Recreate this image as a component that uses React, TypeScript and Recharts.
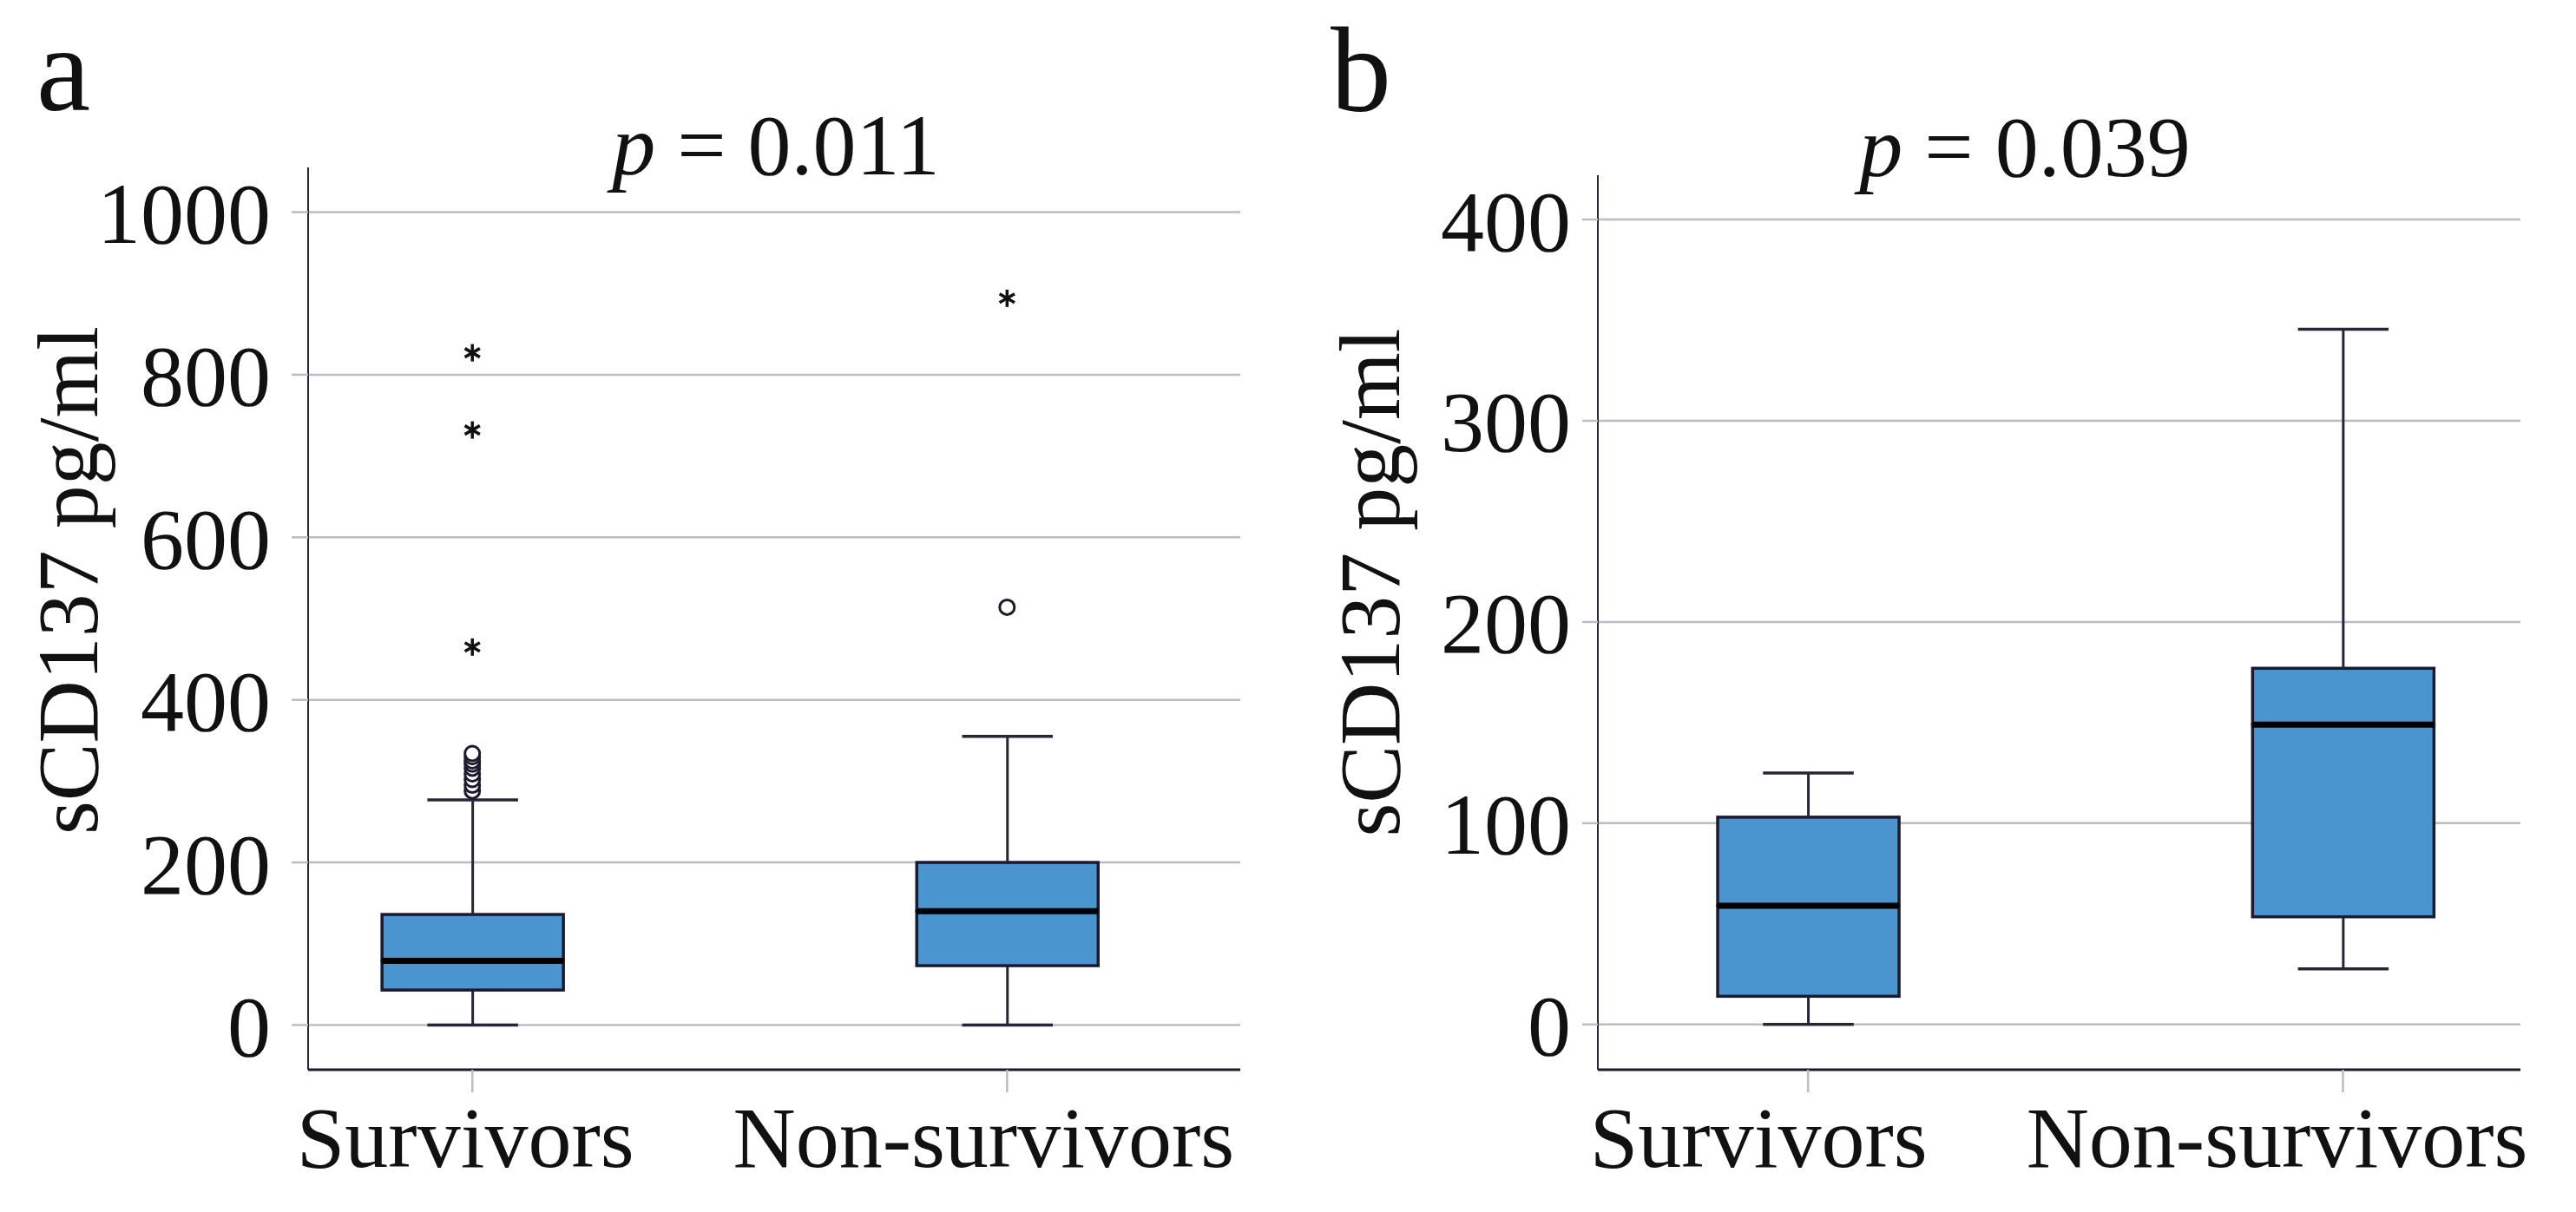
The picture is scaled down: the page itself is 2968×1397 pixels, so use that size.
import React from 'react';
import { ComposedChart, Bar, Scatter, XAxis, YAxis, CartesianGrid, Label } from 'recharts';

// ---------- data ----------
const categories = ['Survivors', 'Non-survivors'];
const groupPositions = [1, 2];

// panel a
const aMin = [0, 0];
const aQ1 = [43, 73];
const aMedian = [79, 140];
const aQ3 = [136, 200];
const aMax = [277, 355];
const aCircleOutliers = [[288, 295, 302, 309, 316, 321, 325, 330, 334], [514]];
const aExtremeOutliers = [[827, 732, 465], [894]];
const aTicks = [0, 200, 400, 600, 800, 1000];
const aPValue = '0.011';

// panel b
const bMin = [0, 27.6];
const bQ1 = [14, 53.5];
const bMedian = [59, 149];
const bQ3 = [103, 177];
const bMax = [125, 345.5];
const bCircleOutliers: number[][] = [[], []];
const bExtremeOutliers: number[][] = [[], []];
const bTicks = [0, 100, 200, 300, 400];
const bPValue = '0.039';

const yLabelText = 'sCD137 pg/ml';

// ---------- helpers ----------
function buildRows(min: number[], q1: number[], med: number[], q3: number[], max: number[]) {
  return groupPositions.map((pos, i) => ({
    pos,
    base: min[i],
    lowWhisker: q1[i] - min[i],
    lowBox: med[i] - q1[i],
    highBox: q3[i] - med[i],
    highWhisker: max[i] - q3[i],
  }));
}

function buildOutliers(list: number[][]) {
  const out: { pos: number; value: number }[] = [];
  list.forEach((vals, i) => vals.forEach((v) => out.push({ pos: groupPositions[i], value: v })));
  return out;
}

// ---------- styles ----------
const FONT = '"Liberation Serif", "Times New Roman", serif';
const TEXT = '#111111';
const BOX_FILL = '#4a95cf';
const BOX_STROKE = '#1c1a2e';
const WHISKER = '#2a2438';
const GRID = '#bcbcc4';

const NoShape = () => <g />;

const LowWhiskerShape = (p: any) => {
  const { x, y, width, height } = p;
  if (x == null || y == null) return <g />;
  const cx = x + width / 2;
  const cap = width / 4;
  return (
    <g>
      <line x1={cx} x2={cx} y1={y} y2={y + height} stroke={WHISKER} strokeWidth={3} />
      <line x1={cx - cap} x2={cx + cap} y1={y + height} y2={y + height} stroke={WHISKER} strokeWidth={3.5} />
    </g>
  );
};

const HighWhiskerShape = (p: any) => {
  const { x, y, width, height } = p;
  if (x == null || y == null) return <g />;
  const cx = x + width / 2;
  const cap = width / 4;
  return (
    <g>
      <line x1={cx} x2={cx} y1={y} y2={y + height} stroke={WHISKER} strokeWidth={3} />
      <line x1={cx - cap} x2={cx + cap} y1={y} y2={y} stroke={WHISKER} strokeWidth={3.5} />
    </g>
  );
};

const LowBoxShape = (p: any) => {
  const { x, y, width, height } = p;
  if (x == null || y == null) return <g />;
  return <rect x={x} y={y} width={width} height={height} fill={BOX_FILL} stroke={BOX_STROKE} strokeWidth={3.5} />;
};

const HighBoxShape = (p: any) => {
  const { x, y, width, height } = p;
  if (x == null || y == null) return <g />;
  return (
    <g>
      <rect x={x} y={y} width={width} height={height} fill={BOX_FILL} stroke={BOX_STROKE} strokeWidth={3.5} />
      <line x1={x} x2={x + width} y1={y + height} y2={y + height} stroke="#000" strokeWidth={7} />
    </g>
  );
};

const CircleShape = (p: any) => {
  const { cx, cy } = p;
  if (cx == null || cy == null) return <g />;
  return <circle cx={cx} cy={cy} r={8.5} fill="#fff" stroke={BOX_STROKE} strokeWidth={3} />;
};

const StarShape = (p: any) => {
  const { cx, cy } = p;
  if (cx == null || cy == null) return <g />;
  const r = 10;
  const arms = [90, 30, -30];
  return (
    <g>
      {arms.map((deg) => {
        const a = (deg * Math.PI) / 180;
        return (
          <line
            key={deg}
            x1={cx - r * Math.cos(a)}
            y1={cy - r * Math.sin(a)}
            x2={cx + r * Math.cos(a)}
            y2={cy + r * Math.sin(a)}
            stroke="#111"
            strokeWidth={3.5}
          />
        );
      })}
    </g>
  );
};

type PanelCfg = {
  left: number;
  width: number;
  height: number;
  top: number;
  right: number;
  yAxisWidth: number;
  xAxisHeight: number;
  xDomain: [number, number];
  yDomain: [number, number];
  yTickSize: number;
  yTickMargin: number;
  xTickSize: number;
  xTickMargin: number;
  xLabelOffsets: number[];
  yLabelX: number;
  yLabelDy: number;
  barSize: number;
};

const panelA: PanelCfg = {
  left: 0,
  width: 1484,
  height: 1397,
  top: 193,
  right: 55,
  yAxisWidth: 355,
  xAxisHeight: 164,
  xDomain: [0.6929, 2.4361],
  yDomain: [-55, 1055],
  yTickSize: 19,
  yTickMargin: 24,
  xTickSize: 26,
  xTickMargin: 15,
  xLabelOffsets: [-8, -27],
  yLabelX: 112,
  yLabelDy: -44,
  barSize: 209,
};

const panelB: PanelCfg = {
  left: 1484,
  width: 1484,
  height: 1397,
  top: 202,
  right: 64,
  yAxisWidth: 357,
  xAxisHeight: 164,
  xDomain: [0.607, 2.3318],
  yDomain: [-22.5, 422],
  yTickSize: 18,
  yTickMargin: 13,
  xTickSize: 26,
  xTickMargin: 15,
  xLabelOffsets: [-57, -76],
  yLabelX: 128,
  yLabelDy: -46,
  barSize: 209,
};

function BoxPanel({
  cfg,
  rows,
  circles,
  stars,
  ticks,
}: {
  cfg: PanelCfg;
  rows: any[];
  circles: { pos: number; value: number }[];
  stars: { pos: number; value: number }[];
  ticks: number[];
}) {
  const XTick = (props: any) => {
    const { x, y, payload } = props;
    const i = groupPositions.indexOf(payload.value);
    if (i < 0) return <g />;
    return (
      <text x={x + cfg.xLabelOffsets[i]} y={y} dy={71} textAnchor="middle" fontFamily={FONT} fontSize={100} fill={TEXT}>
        {categories[i]}
      </text>
    );
  };

  const YLabel = (props: any) => {
    const vb = props.viewBox || { x: 0, y: 0, width: 0, height: 0 };
    const bx = vb.x + cfg.yLabelX;
    const cy = vb.y + vb.height / 2 + cfg.yLabelDy;
    return (
      <text
        transform={`translate(${bx},${cy}) rotate(-90)`}
        textAnchor="middle"
        fontFamily={FONT}
        fontSize={100}
        fill={TEXT}
      >
        {yLabelText}
      </text>
    );
  };

  return (
    <div style={{ position: 'absolute', left: cfg.left, top: 0, width: cfg.width, height: cfg.height }}>
      <ComposedChart
        width={cfg.width}
        height={cfg.height}
        data={rows}
        margin={{ top: cfg.top, right: cfg.right, bottom: 0, left: 0 }}
        barGap={0}
      >
        <CartesianGrid vertical={false} stroke={GRID} strokeWidth={2.5} syncWithTicks />
        <XAxis
          dataKey="pos"
          type="number"
          domain={cfg.xDomain}
          ticks={groupPositions}
          allowDataOverflow
          height={cfg.xAxisHeight}
          tickSize={cfg.xTickSize}
          tickMargin={cfg.xTickMargin}
          tickLine={{ stroke: GRID, strokeWidth: 2.5 }}
          axisLine={{ stroke: BOX_STROKE, strokeWidth: 3 }}
          tick={XTick}
          interval={0}
        />
        <YAxis
          type="number"
          domain={cfg.yDomain}
          ticks={ticks}
          allowDataOverflow
          width={cfg.yAxisWidth}
          tickSize={cfg.yTickSize}
          tickMargin={cfg.yTickMargin}
          tickLine={{ stroke: GRID, strokeWidth: 2.5 }}
          axisLine={{ stroke: WHISKER, strokeWidth: 2 }}
          tick={{ fontFamily: FONT, fontSize: 100, fill: TEXT }}
          interval={0}
        >
          <Label content={YLabel} />
        </YAxis>
        <Bar dataKey="base" stackId="box" barSize={cfg.barSize} shape={NoShape} fill="none" isAnimationActive={false} />
        <Bar dataKey="lowWhisker" stackId="box" barSize={cfg.barSize} shape={LowWhiskerShape} isAnimationActive={false} />
        <Bar dataKey="lowBox" stackId="box" barSize={cfg.barSize} shape={LowBoxShape} isAnimationActive={false} />
        <Bar dataKey="highBox" stackId="box" barSize={cfg.barSize} shape={HighBoxShape} isAnimationActive={false} />
        <Bar dataKey="highWhisker" stackId="box" barSize={cfg.barSize} shape={HighWhiskerShape} isAnimationActive={false} />
        {circles.length > 0 && (
          <Scatter data={circles} dataKey="value" shape={CircleShape} isAnimationActive={false} />
        )}
        {stars.length > 0 && <Scatter data={stars} dataKey="value" shape={StarShape} isAnimationActive={false} />}
      </ComposedChart>
    </div>
  );
}

export default function App() {
  const rowsA = buildRows(aMin, aQ1, aMedian, aQ3, aMax);
  const rowsB = buildRows(bMin, bQ1, bMedian, bQ3, bMax);
  return (
    <div
      style={{
        position: 'absolute',
        left: 0,
        top: 0,
        width: 2968,
        height: 1397,
        background: '#fff',
        overflow: 'hidden',
      }}
    >
      <BoxPanel
        cfg={panelA}
        rows={rowsA}
        circles={buildOutliers(aCircleOutliers)}
        stars={buildOutliers(aExtremeOutliers)}
        ticks={aTicks}
      />
      <BoxPanel
        cfg={panelB}
        rows={rowsB}
        circles={buildOutliers(bCircleOutliers)}
        stars={buildOutliers(bExtremeOutliers)}
        ticks={bTicks}
      />
      <svg
        width={2968}
        height={1397}
        style={{ position: 'absolute', left: 0, top: 0, pointerEvents: 'none' }}
      >
        <text x={42} y={127} fontFamily={FONT} fontSize={140} fill={TEXT}>
          a
        </text>
        <text x={1533} y={128} fontFamily={FONT} fontSize={140} fill={TEXT}>
          b
        </text>
        <text x={894} y={201} textAnchor="middle" fontFamily={FONT} fontSize={100} fill={TEXT}>
          <tspan fontStyle="italic">p</tspan> = {aPValue}
        </text>
        <text x={2333} y={203} textAnchor="middle" fontFamily={FONT} fontSize={100} fill={TEXT}>
          <tspan fontStyle="italic">p</tspan> = {bPValue}
        </text>
      </svg>
    </div>
  );
}
